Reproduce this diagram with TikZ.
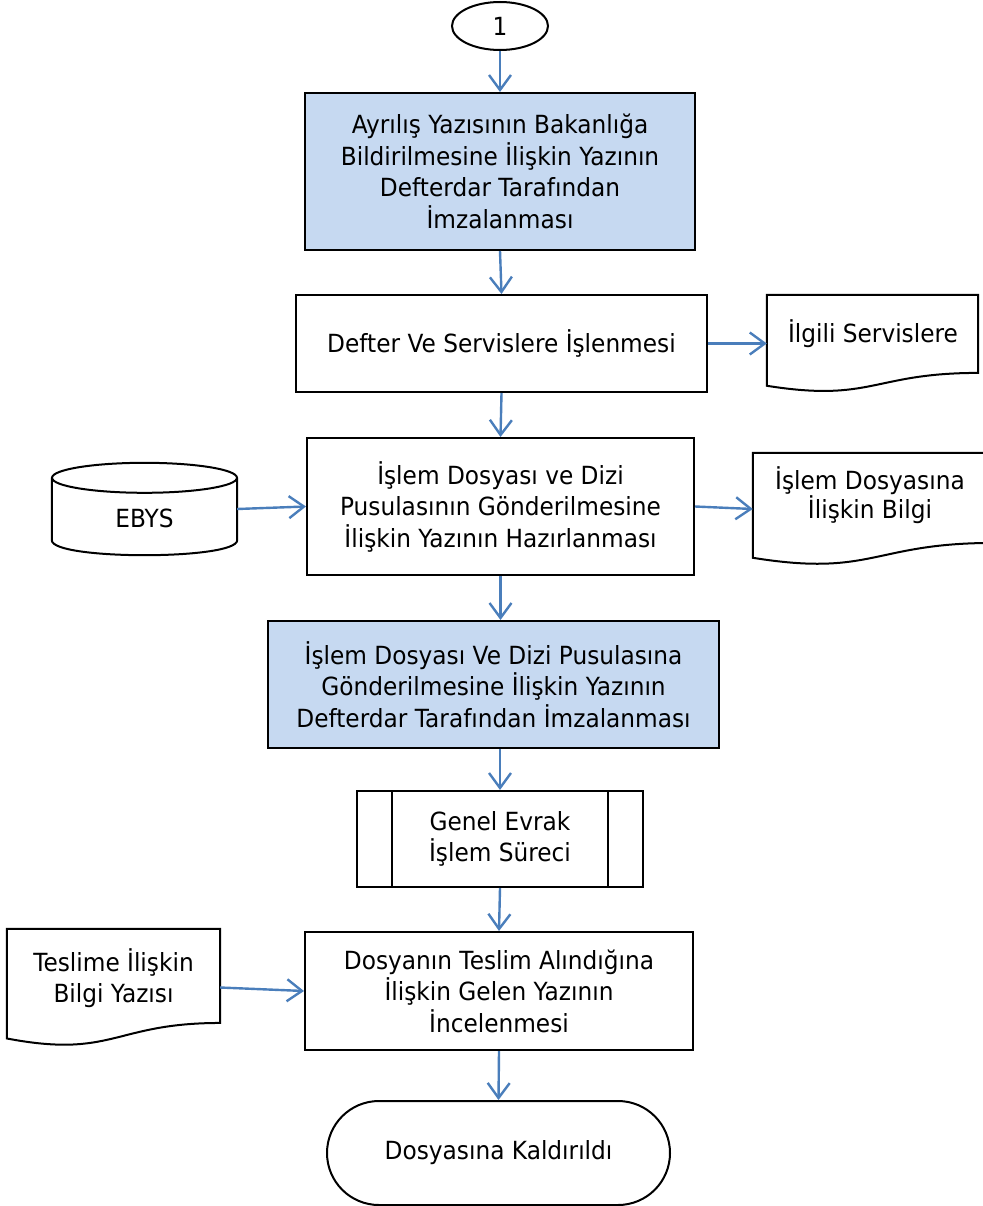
\documentclass[tikz,border=0pt]{standalone}
\usepackage{fontspec}
\setmainfont{DejaVu Sans}[FakeStretch=0.93]
\usetikzlibrary{arrows.meta,shapes.geometric,calc}
\definecolor{boxblue}{HTML}{C6D9F1}
\definecolor{arrowblue}{HTML}{4A7EBB}
\tikzset{
  txt/.style={font=\fontsize{25}{31.5}\selectfont, align=center},
  procbox/.style={draw=black, line width=2pt, rectangle, inner sep=0pt, txt},
  bluebox/.style={procbox, fill=boxblue},
  shapeline/.style={draw=black, line width=2pt},
  frame/.style={rectangle, inner sep=0pt},
  conn/.style={draw=arrowblue, line width=2.4pt, -{Straight Barb[length=15pt,width=22pt,line width=2.4pt]}},
}
\newcommand\drawdocshape[1]{%
  \draw[shapeline] let \p1=(#1.north west), \p2=(#1.south east) in
    (\x1,\y1) -- (\x2,\y1) -- (\x2,{\y1+0.802*(\y2-\y1)})
    .. controls ({(\x1+\x2)/2},{\y1+0.802*(\y2-\y1)}) and ({(\x1+\x2)/2},{\y1+1.107*(\y2-\y1)}) ..
    (\x1,{\y1+0.934*(\y2-\y1)}) -- cycle;}
\begin{document}
\begin{tikzpicture}[x=1pt,y=-1pt]
\useasboundingbox (0,0) rectangle (982,1206);
% start connector
\node[ellipse, shapeline, minimum width=96pt, minimum height=48pt, inner sep=0pt, txt] (start) at (500,26) {1};
% box 1
\node[bluebox, minimum width=390pt, minimum height=157pt] (b1) at (500,171.5)
  {Ayrılış Yazısının Bakanlığa\\Bildirilmesine İlişkin Yazının\\Defterdar Tarafından\\İmzalanması};
% box 2
\node[procbox, minimum width=411pt, minimum height=97pt] (b2) at (501.5,343.5)
  {Defter Ve Servislere İşlenmesi};
% doc 1
\node[frame, minimum width=211pt, minimum height=97pt] (doc1) at (872.5,343.5) {};
\drawdocshape{doc1}
\node[txt, inner sep=0pt] (doc1t) at (873,334) {İlgili Servislere};
% box 3
\node[procbox, minimum width=387pt, minimum height=137pt] (b3) at (500.5,506.5)
  {İşlem Dosyası ve Dizi\\Pusulasının Gönderilmesine\\İlişkin Yazının Hazırlanması};
% EBYS cylinder
\node[frame, minimum width=185pt, minimum height=92pt] (ebys) at (144.5,509) {};
\draw[shapeline] let \p1=(ebys.north west), \p2=(ebys.south east) in
  (\x1,\y1-15pt) -- (\x1,\y2+15pt)
  .. controls (\x1,\y2-5pt) and (\x2,\y2-5pt) .. (\x2,\y2+15pt)
  -- (\x2,\y1-15pt);
\draw[shapeline] ($(ebys.north)+(0,15)$) ellipse [x radius=92.5, y radius=15];
\node[txt, inner sep=0pt] (ebyst) at (144.5,518) {EBYS};
% doc 2
\node[frame, minimum width=240pt, minimum height=112pt] (doc2) at (873,509) {};
\drawdocshape{doc2}
\node[font=\fontsize{25}{24}\selectfont, align=center, inner sep=0pt] (doc2t) at (870,495) {İşlem Dosyasına\\İlişkin Bilgi};
% box 4
\node[bluebox, minimum width=451pt, minimum height=127pt] (b4) at (493.5,684.5)
  {İşlem Dosyası Ve Dizi Pusulasına\\Gönderilmesine İlişkin Yazının\\Defterdar Tarafından İmzalanması};
% predefined process
\node[procbox, minimum width=286pt, minimum height=96pt] (pp) at (500,839)
  {Genel Evrak\\İşlem Süreci};
\draw[shapeline] ([xshift=36pt]pp.north west) -- ([xshift=36pt]pp.south west);
\draw[shapeline] ([xshift=-36pt]pp.north east) -- ([xshift=-36pt]pp.south east);
% box 5
\node[procbox, minimum width=388pt, minimum height=118pt] (b5) at (499,991)
  {Dosyanın Teslim Alındığına\\İlişkin Gelen Yazının\\İncelenmesi};
% doc 3
\node[frame, minimum width=213pt, minimum height=117pt] (doc3) at (113.5,987.5) {};
\drawdocshape{doc3}
\node[txt, inner sep=0pt] (doc3t) at (113.5,978) {Teslime İlişkin\\Bilgi Yazısı};
% terminal
\node[procbox, rounded corners=52pt, minimum width=343pt, minimum height=104pt] (term) at (498.5,1153)
  {Dosyasına Kaldırıldı};
% connectors
\draw[conn] (start) -- (b1.north);
\draw[conn] (b1.south) -- (b2.north);
\draw[conn] (b2.south) -- (b3.north);
\draw[conn] (b2.east) -- (doc1.west);
\draw[conn] (ebys.east) -- (b3.west);
\draw[conn] (b3.east) -- (doc2.west);
\draw[conn] (b3.south) -- (b3.south |- b4.north);
\draw[conn] (b4.south -| pp.north) -- (pp.north);
\draw[conn] (pp.south) -- (b5.north);
\draw[conn] (doc3.east) -- (b5.west);
\draw[conn] (b5.south) -- (term.north);
\end{tikzpicture}
\end{document}
